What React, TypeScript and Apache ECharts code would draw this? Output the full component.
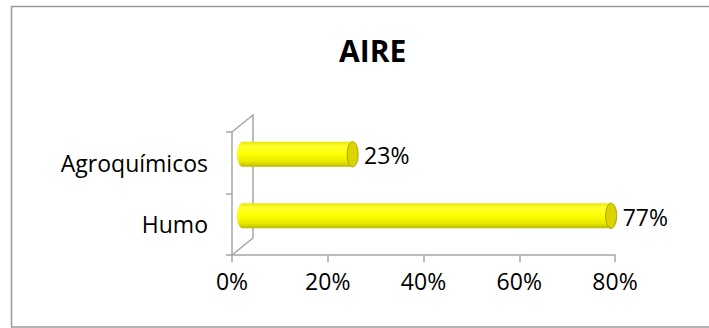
import React, { useEffect, useRef } from "react";
import * as echarts from "echarts";

const title = "AIRE";
const categories = ["Humo", "Agroquímicos"];
const values = [0.77, 0.23];
const xTicks = { min: 0, max: 0.8, interval: 0.2 };

const FONT = "'Open Sans', 'Liberation Sans', sans-serif";
const GRID = { left: 232, right: 94, top: 132, bottom: 73 };
const DEPTH = { dx: 21, dy: -17 };
const W = 709;
const H = 328;

export default function App() {
  const ref = useRef<HTMLDivElement>(null);
  useEffect(() => {
    const chart = echarts.init(ref.current!, null, { renderer: "svg" });
    const midX = DEPTH.dx / 2;
    const midY = DEPTH.dy / 2;
    const L = GRID.left;
    const T = GRID.top;
    const B = H - GRID.bottom;
    const fmt = (v: number) => Math.round(v * 100) + "%";
    chart.setOption({
      animation: false,
      backgroundColor: "#ffffff",
      title: {
        text: title,
        left: 334,
        top: 30,
        textStyle: { fontFamily: FONT, fontSize: 30, fontWeight: "bold", color: "#000" },
      },
      graphic: [
        {
          type: "rect",
          shape: { x: 11.5, y: 6.5, width: 720, height: 320.5 },
          style: { fill: "none", stroke: "#9a9a9a", lineWidth: 1.5 },
          silent: true,
        },
        {
          type: "polyline",
          shape: {
            points: [
              [L, T],
              [L + DEPTH.dx, T + DEPTH.dy],
              [L + DEPTH.dx, B + DEPTH.dy],
              [L, B],
            ],
          },
          style: { fill: "none", stroke: "#a6a6a6", lineWidth: 1.5 },
          silent: true,
          z: 0,
        },
      ],
      grid: [
        { left: GRID.left, right: GRID.right, top: GRID.top, bottom: GRID.bottom },
        {
          left: GRID.left + midX,
          right: GRID.right - midX,
          top: GRID.top + midY,
          bottom: GRID.bottom - midY,
        },
      ],
      xAxis: [
        {
          type: "value",
          gridIndex: 0,
          min: xTicks.min,
          max: xTicks.max,
          interval: xTicks.interval,
          axisLine: { show: true, lineStyle: { color: "#a6a6a6", width: 1.5 } },
          axisTick: { show: true, length: 7, lineStyle: { color: "#a6a6a6", width: 1.5 } },
          splitLine: { show: false },
          axisLabel: { formatter: fmt, fontFamily: FONT, fontSize: 23, color: "#000", margin: 14 },
        },
        {
          type: "value",
          gridIndex: 1,
          min: xTicks.min,
          max: xTicks.max,
          show: false,
        },
      ],
      yAxis: [
        {
          type: "category",
          gridIndex: 0,
          data: categories,
          axisLine: { show: true, lineStyle: { color: "#a6a6a6", width: 1.5 } },
          axisTick: { show: true, length: 6, lineStyle: { color: "#a6a6a6", width: 1.5 } },
          axisLabel: { fontFamily: FONT, fontSize: 23, color: "#000", margin: 24 },
        },
        {
          type: "category",
          gridIndex: 1,
          data: categories,
          show: false,
        },
      ],
      series: [
        {
          type: "custom",
          xAxisIndex: 1,
          yAxisIndex: 1,
          data: values.map((v, i) => [v, i]),
          encode: { x: 0, y: 1 },
          renderItem: (params: any, api: any) => {
            const v = api.value(0);
            const c = api.value(1);
            const start = api.coord([0, c]);
            const end = api.coord([v, c]);
            const h = api.size([0, 1])[1] * 0.41;
            const rx = 5.5;
            const grad = new echarts.graphic.LinearGradient(0, 0, 0, 1, [
              { offset: 0, color: "#e6e600" },
              { offset: 0.18, color: "#ffff30" },
              { offset: 0.5, color: "#ffff00" },
              { offset: 0.8, color: "#e8e800" },
              { offset: 1, color: "#bdb800" },
            ]);
            return {
              type: "group",
              children: [
                {
                  type: "ellipse",
                  shape: { cx: start[0], cy: start[1], rx: rx, ry: h / 2 },
                  style: { fill: grad },
                },
                {
                  type: "rect",
                  shape: { x: start[0], y: start[1] - h / 2, width: end[0] - start[0], height: h },
                  style: { fill: grad },
                },
                {
                  type: "ellipse",
                  shape: { cx: end[0], cy: end[1], rx: rx, ry: h / 2 },
                  style: { fill: "#dcd400", stroke: "#aaa200", lineWidth: 1 },
                },
                {
                  type: "text",
                  x: end[0] + rx + 6,
                  y: end[1] + 1,
                  style: {
                    text: fmt(v),
                    fontFamily: FONT,
                    fontSize: 23,
                    fill: "#000",
                    verticalAlign: "middle",
                    align: "left",
                  },
                },
              ],
            };
          },
        },
      ],
    });
    return () => chart.dispose();
  }, []);
  return <div ref={ref} style={{ width: W, height: H, position: "absolute", left: 0, top: 0 }} />;
}
